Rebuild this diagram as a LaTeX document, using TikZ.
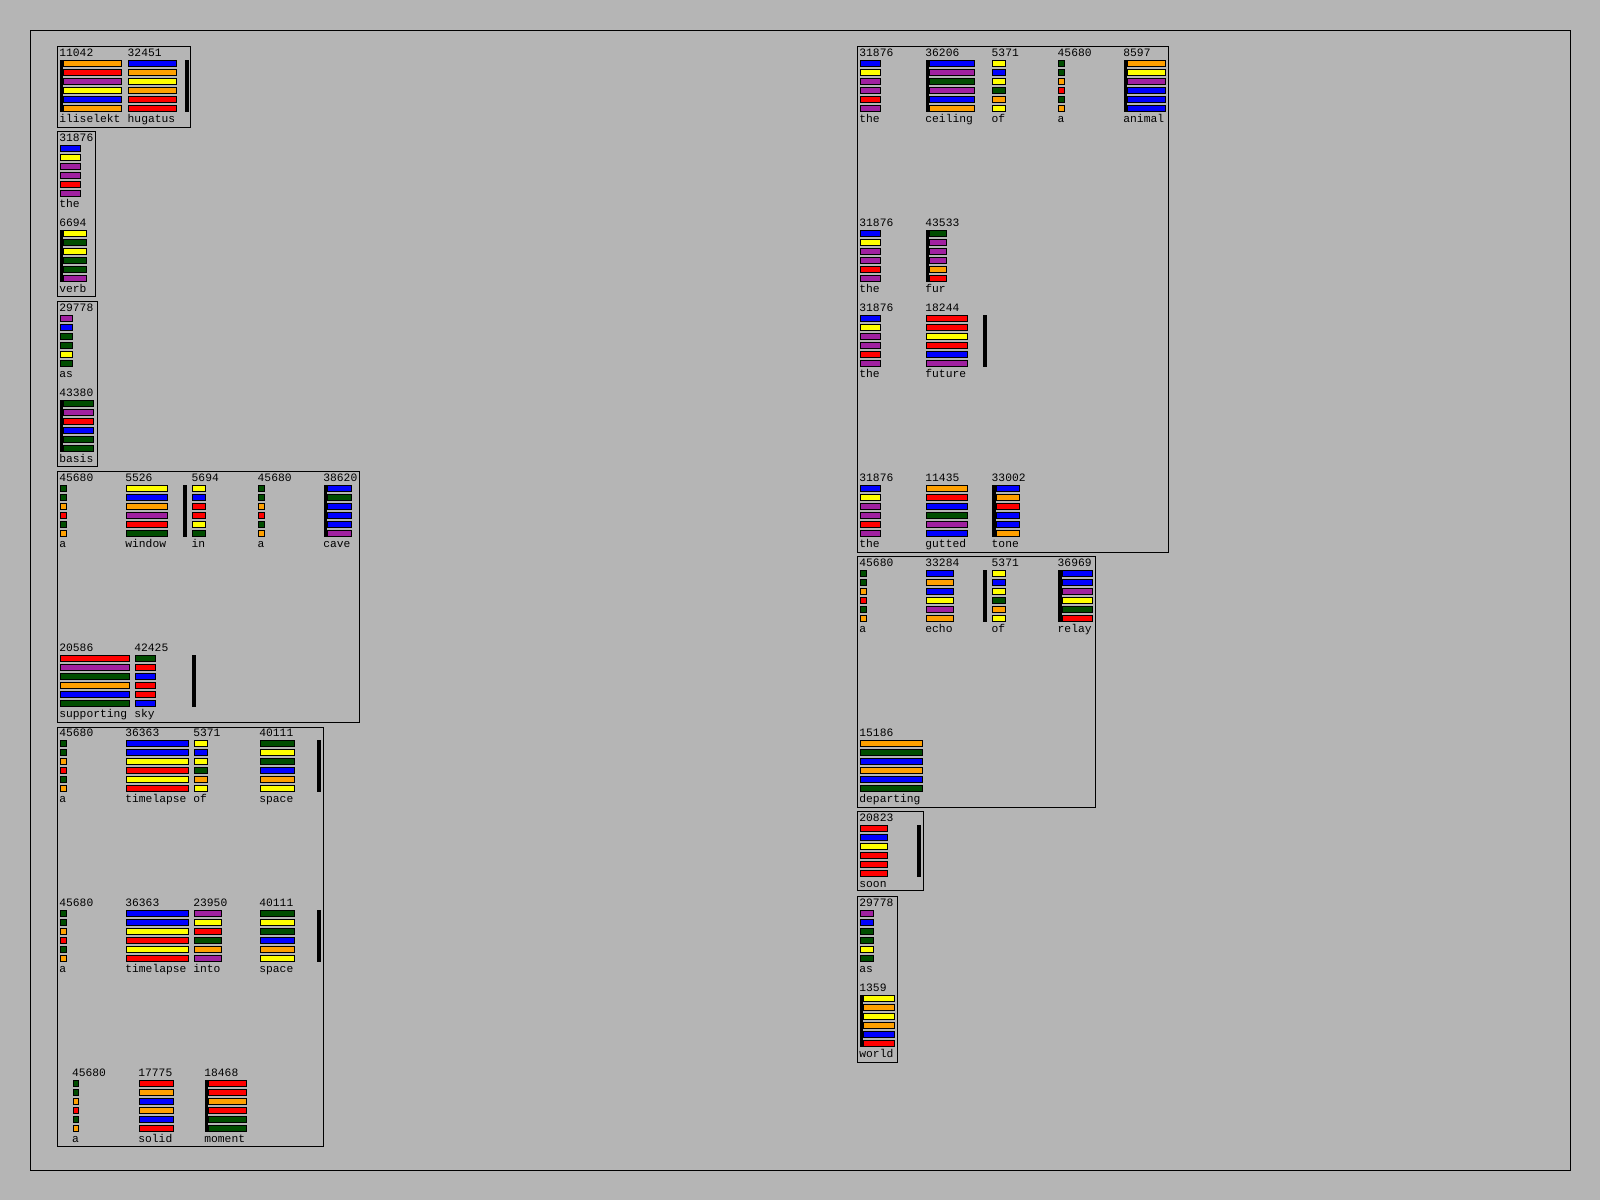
\documentclass[tikz,border=0pt]{standalone}
\usepackage{fontspec}
\newfontfamily\pix{Liberation Mono}
\definecolor{bg}{RGB}{181,181,181}
\definecolor{O}{RGB}{255,160,0}
\definecolor{R}{RGB}{255,0,0}
\definecolor{P}{RGB}{160,32,160}
\definecolor{Y}{RGB}{255,255,0}
\definecolor{B}{RGB}{0,0,255}
\definecolor{G}{RGB}{0,77,0}
\newcounter{cellid}
\newcommand\wcell[7]{%
  \stepcounter{cellid}%
  \node[lbl] (num\thecellid) at (#1-0.6,#2-4) {#3};%
  \node[lbl] (wrd\thecellid) at (#1-0.6,#2+62.7) {#4};%
  \ifnum#6=1\relax
    \fill[black] (#1,#2) rectangle ++(3.4,52.3);%
    \pgfmathsetmacro\bx{#1+3.3}%
  \else
    \pgfmathsetmacro\bx{#1}%
  \fi
  \foreach \c [count=\i from 0] in {#7}{%
    \draw[bar,fill=\c] (\bx+0.5,#2+9*\i+0.5) rectangle (\bx+#5-0.5,#2+9*\i+6.8);%
  }%
}
\newcommand\sepbar[2]{\fill[black] (#1,#2) rectangle ++(4,52.3);}
\newcommand\wbox[4]{\draw[boxln] (#1,#2) rectangle (#3,#4);}
\begin{document}
\begin{tikzpicture}[x=0.5pt,y=-0.5pt,
  lbl/.style={anchor=base west,inner sep=0pt,outer sep=0pt,font=\pix\fontsize{5.65}{6}\selectfont},
  bar/.style={draw=black,line width=0.5pt},
  boxln/.style={draw=black,line width=0.5pt}]
\useasboundingbox (0,0) rectangle (1600,1200);
\fill[bg] (0,0) rectangle (1600,1200);
\draw[boxln] (30.5,30.5) rectangle (1570.5,1170.5);
% ---------- left column ----------
\wbox{57.5}{46.5}{190.5}{127.5}
\wcell{60}{60}{11042}{iliselekt}{59}{1}{O,R,P,Y,B,O}
\wcell{128.3}{60}{32451}{hugatus}{48.4}{0}{B,O,Y,O,R,R}
\sepbar{185}{60}
\wbox{57.5}{131.5}{95.5}{296.5}
\wcell{60}{145}{31876}{the}{20.7}{0}{B,Y,P,P,R,P}
\wcell{60}{230}{6694}{verb}{24}{1}{Y,G,Y,G,G,P}
\wbox{57.5}{301.5}{97.5}{466.5}
\wcell{60}{315}{29778}{as}{13.3}{0}{P,B,G,G,Y,G}
\wcell{60}{400}{43380}{basis}{31}{1}{G,P,R,B,G,G}
\wbox{57.5}{471.5}{359.5}{722.5}
\wcell{60}{485}{45680}{a}{6.7}{0}{G,G,O,R,G,O}
\wcell{126}{485}{5526}{window}{41.7}{0}{Y,B,O,P,R,G}
\sepbar{182.7}{485}
\wcell{192.3}{485}{5694}{in}{13.3}{0}{Y,B,R,R,Y,G}
\wcell{258.3}{485}{45680}{a}{6.7}{0}{G,G,O,R,G,O}
\wcell{324}{485}{38620}{cave}{24.3}{1}{B,G,B,B,B,P}
\wcell{60}{655}{20586}{supporting}{70}{0}{R,P,G,O,B,G}
\wcell{135}{655}{42425}{sky}{21}{0}{G,R,B,R,R,B}
\sepbar{192}{655}
\wbox{57.5}{727.5}{323.5}{1146}
\wcell{60}{740}{45680}{a}{6.7}{0}{G,G,O,R,G,O}
\wcell{126}{740}{36363}{timelapse}{62.7}{0}{B,B,Y,R,Y,R}
\wcell{194}{740}{5371}{of}{13.7}{0}{Y,B,Y,G,O,Y}
\wcell{260}{740}{40111}{space}{35}{0}{G,Y,G,B,O,Y}
\sepbar{316.7}{740}
\wcell{60}{910}{45680}{a}{6.7}{0}{G,G,O,R,G,O}
\wcell{126}{910}{36363}{timelapse}{62.7}{0}{B,B,Y,R,Y,R}
\wcell{194}{910}{23950}{into}{27.7}{0}{P,Y,R,G,O,P}
\wcell{260}{910}{40111}{space}{35}{0}{G,Y,G,B,O,Y}
\sepbar{316.7}{910}
\wcell{72.7}{1080}{45680}{a}{6.7}{0}{G,G,O,R,G,O}
\wcell{139}{1080}{17775}{solid}{35}{0}{R,O,B,O,B,R}
\wcell{205}{1080}{18468}{moment}{38.3}{1}{R,R,O,R,G,G}
% ---------- right column ----------
\wbox{857.5}{46.5}{1168.5}{552}
\wcell{860}{60}{31876}{the}{20.7}{0}{B,Y,P,P,R,P}
\wcell{926}{60}{36206}{ceiling}{45.3}{1}{B,P,G,P,B,O}
\wcell{992.3}{60}{5371}{of}{13.3}{0}{Y,B,Y,G,O,Y}
\wcell{1058.3}{60}{45680}{a}{6.7}{0}{G,G,O,R,G,O}
\wcell{1124}{60}{8597}{animal}{38.3}{1}{O,Y,P,B,B,B}
\wcell{860}{230}{31876}{the}{20.7}{0}{B,Y,P,P,R,P}
\wcell{926}{230}{43533}{fur}{17.3}{1}{G,P,P,P,O,R}
\wcell{860}{315}{31876}{the}{20.7}{0}{B,Y,P,P,R,P}
\wcell{926}{315}{18244}{future}{41.7}{0}{R,R,Y,R,B,P}
\sepbar{983.3}{315}
\wcell{860}{485}{31876}{the}{20.7}{0}{B,Y,P,P,R,P}
\wcell{926}{485}{11435}{gutted}{41.7}{0}{O,R,B,G,P,B}
\wcell{992.3}{485}{33002}{tone}{24.3}{1}{B,O,R,B,B,O}
\wbox{857.5}{556.5}{1095}{807.5}
\wcell{860}{570}{45680}{a}{6.7}{0}{G,G,O,R,G,O}
\wcell{926}{570}{33284}{echo}{27.7}{0}{B,O,B,Y,P,O}
\sepbar{983.3}{570}
\wcell{992.3}{570}{5371}{of}{13.3}{0}{Y,B,Y,G,O,Y}
\wcell{1058.3}{570}{36969}{relay}{31}{1}{B,B,P,Y,G,R}
\wcell{860}{740}{15186}{departing}{62.7}{0}{O,G,B,O,B,G}
\wbox{857.5}{811.5}{923.5}{890.5}
\wcell{860}{825}{20823}{soon}{27.7}{0}{R,B,Y,R,R,R}
\sepbar{916.7}{825}
\wbox{857.5}{896.5}{897.5}{1062}
\wcell{860}{910}{29778}{as}{13.7}{0}{P,B,G,G,Y,G}
\wcell{860}{995}{1359}{world}{31.3}{1}{Y,O,Y,O,B,R}
\end{tikzpicture}
\end{document}
